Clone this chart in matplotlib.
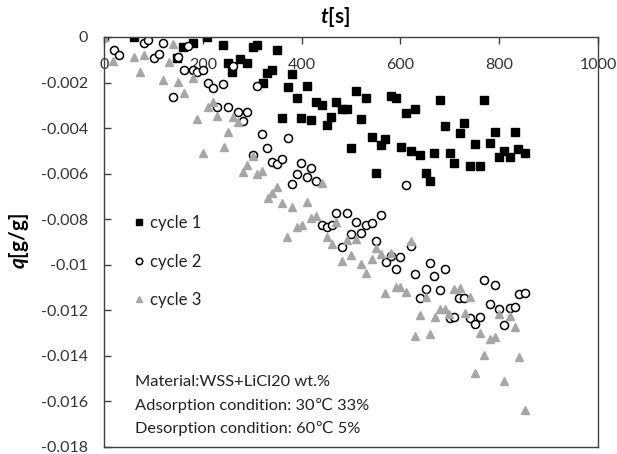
import matplotlib
matplotlib.use("Agg")
import matplotlib.pyplot as plt

plt.rcParams['font.family'] = ['Lato', 'DejaVu Sans']
plt.rcParams['mathtext.fontset'] = 'custom'
plt.rcParams['mathtext.it'] = 'Lato:italic:bold'
plt.rcParams['mathtext.rm'] = 'Lato:bold'

# ---------------- data ----------------
t1 = [0, 61, 148, 159, 181, 209, 241, 250, 260, 275, 290, 301, 310, 321, 329, 341, 351, 360, 372, 381,
      390, 399, 411, 420, 430, 441, 451, 460, 470, 481, 491, 499, 511, 520, 530, 542, 551, 560, 569, 580,
      591, 601, 611, 621, 630, 640, 651, 660, 669, 681, 691, 700, 709, 721, 729, 740, 751, 761, 770, 781,
      791, 800, 810, 821, 831, 839, 852]
q1 = [0, 0, -0.0009, -0.00043, -0.00025, 0, -0.00036, -0.00116, -0.00152, -0.00098, -0.00113, -0.00043,
      -0.00035, -0.00203, -0.0016, -0.00145, -0.00057, -0.00357, -0.00221, -0.00162, -0.00269, -0.00357,
      -0.00215, -0.00364, -0.00286, -0.0030, -0.00386, -0.00353, -0.00284, -0.00316, -0.00316, -0.00487,
      -0.00236, -0.00361, -0.00269, -0.0044, -0.00598, -0.00473, -0.00446, -0.00259, -0.00269, -0.00481,
      -0.00335, -0.00502, -0.00316, -0.00518, -0.00596, -0.00634, -0.00511, -0.00275, -0.00391, -0.00511,
      -0.00552, -0.0042, -0.00376, -0.00566, -0.00471, -0.00566, -0.00275, -0.00467, -0.00416, -0.00528,
      -0.00499, -0.00528, -0.00416, -0.00492, -0.00508]

t2 = [0, 20, 31, 80, 90, 101, 111, 119, 140, 150, 161, 171, 180, 189, 201, 211, 220, 229, 240, 250,
      261, 271, 281, 290, 301, 310, 320, 329, 341, 351, 360, 372, 380, 390, 399, 410, 420, 430, 441, 451,
      461, 470, 481, 491, 499, 511, 520, 530, 542, 551, 560, 571, 580, 591, 599, 611, 621, 630, 640, 651,
      660, 669, 681, 690, 700, 709, 719, 729, 741, 751, 761, 770, 781, 791, 800, 810, 821, 831, 840, 852]
q2 = [0, -0.00057, -0.00079, -0.00028, -0.00013, -0.00094, -0.00075, -0.00025, -0.00265, -0.00089,
      -0.00145, -0.0004, -0.00145, -0.00155, -0.00145, -0.00203, -0.00225, -0.00309, -0.00208, -0.00309,
      -0.00127, -0.00328, -0.00369, -0.00328, -0.00518, -0.00215, -0.00426, -0.00486, -0.00547, -0.00559,
      -0.00537, -0.00445, -0.00647, -0.00601, -0.00555, -0.00615, -0.00576, -0.00631, -0.00825, -0.00833,
      -0.00825, -0.00774, -0.0092, -0.00771, -0.00865, -0.00811, -0.00859, -0.00825, -0.00815, -0.00894,
      -0.00781, -0.00986, -0.00961, -0.01017, -0.00967, -0.00648, -0.00918, -0.0104, -0.01147, -0.01108,
      -0.0099, -0.01051, -0.01112, -0.01017, -0.01235, -0.01228, -0.01147, -0.01147, -0.01232, -0.0126,
      -0.01228, -0.01067, -0.01173, -0.01089, -0.01196, -0.01264, -0.01191, -0.01184, -0.01128, -0.01125]

t3 = [0, 19, 61, 72, 80, 120, 131, 140, 150, 161, 181, 189, 201, 211, 220, 229, 242, 250, 261, 271,
      281, 290, 301, 310, 320, 331, 341, 351, 360, 371, 381, 390, 400, 411, 420, 429, 441, 451, 461, 470,
      481, 491, 499, 511, 520, 530, 542, 551, 560, 569, 580, 591, 599, 611, 621, 630, 640, 652, 660, 670,
      680, 690, 699, 709, 721, 730, 741, 751, 761, 770, 781, 791, 800, 810, 821, 831, 840, 852]
q3 = [0, -0.00104, -0.00089, -0.00154, -0.00079, -0.00189, -0.00108, -0.00031, -0.00196, -0.00247,
      -0.00179, -0.00361, -0.00508, -0.00309, -0.00284, -0.00347, -0.00484, -0.00416, -0.00353, -0.00372,
      -0.00591, -0.00562, -0.00522, -0.00601, -0.00587, -0.00708, -0.00686, -0.00657, -0.0073, -0.00877,
      -0.00745, -0.00833, -0.00825, -0.00723, -0.00796, -0.00786, -0.00642, -0.00877, -0.00909, -0.00811,
      -0.00982, -0.00891, -0.00957, -0.00888, -0.00997, -0.01035, -0.00976, -0.00928, -0.00953, -0.01122,
      -0.00947, -0.01096, -0.01096, -0.01118, -0.00894, -0.01313, -0.0122, -0.01143, -0.01304, -0.0123,
      -0.01193, -0.01193, -0.01216, -0.01108, -0.01103, -0.01213, -0.01143, -0.01474, -0.01298, -0.01395,
      -0.01324, -0.01316, -0.01216, -0.01511, -0.01225, -0.01272, -0.01406, -0.01637]

series_labels = ['cycle 1', 'cycle 2', 'cycle 3']
x_ticks = [0, 200, 400, 600, 800, 1000]
x_tick_labels = ['0', '200', '400', '600', '800', '1000']
y_ticks = [0, -0.002, -0.004, -0.006, -0.008, -0.01, -0.012, -0.014, -0.016, -0.018]
y_tick_labels = ['0', '-0.002', '-0.004', '-0.006', '-0.008', '-0.01', '-0.012', '-0.014', '-0.016', '-0.018']
notes = ['Material:WSS+LiCl20 wt.%', 'Adsorption condition: 30\u2103 33%', 'Desorption condition: 60\u2103 5%']

# ---------------- figure ----------------
fig = plt.figure(figsize=(6.17, 4.54), dpi=100)
ax = fig.add_axes([104/617, 1-447/454, 494/617, 410/454])

grey = '#A6A6A6'
ax.plot(t1, q1, ls='none', marker='s', ms=5.8, mfc='black', mec='black', label=series_labels[0])
ax.plot(t2, q2, ls='none', marker='o', ms=5.8, mfc='white', mec='black', mew=1.1, label=series_labels[1])
ax.plot(t3, q3, ls='none', marker='^', ms=6.2, mfc=grey, mec=grey, label=series_labels[2])

ax.set_xlim(0, 1000)
ax.set_ylim(-0.018, 0)
ax.set_xticks(x_ticks)
ax.set_xticklabels(x_tick_labels)
ax.set_yticks(y_ticks)
ax.set_yticklabels(y_tick_labels)

for s in ax.spines.values():
    s.set_color('#404040')
    s.set_linewidth(1.0)

ax.tick_params(axis='x', top=True, bottom=False, labeltop=True, labelbottom=False,
               direction='in', length=5, width=1, color='#404040', pad=-25, labelsize=11.5, labelcolor='#333333')
ax.tick_params(axis='y', left=True, right=False, direction='in', length=5, width=1, color='#404040',
               pad=11.5, labelsize=11.5, labelcolor='#333333')
for lab in ax.get_xticklabels():
    lab.set_zorder(0)

fig.text(335/617, 1-17/454, r'$t$[s]', ha='center', va='center', fontsize=15, fontweight='bold')
fig.text(19/617, 1-241/454, r'$q$[g/g]', ha='center', va='center', fontsize=15, fontweight='bold',
         rotation=90)

leg = ax.legend(loc='center left', bbox_to_anchor=(0.03, 0.452), frameon=False, fontsize=12,
                handlelength=0.6, handletextpad=0.4, labelspacing=1.35, markerscale=0.8)
for txt in leg.get_texts():
    txt.set_color('#222222')

for i, note in enumerate(notes):
    ax.text(0.063, 0.158 - i * 0.056, note, transform=ax.transAxes, ha='left', va='center',
            fontsize=11.8, color='#222222')

fig.savefig('out.png', dpi=100)
